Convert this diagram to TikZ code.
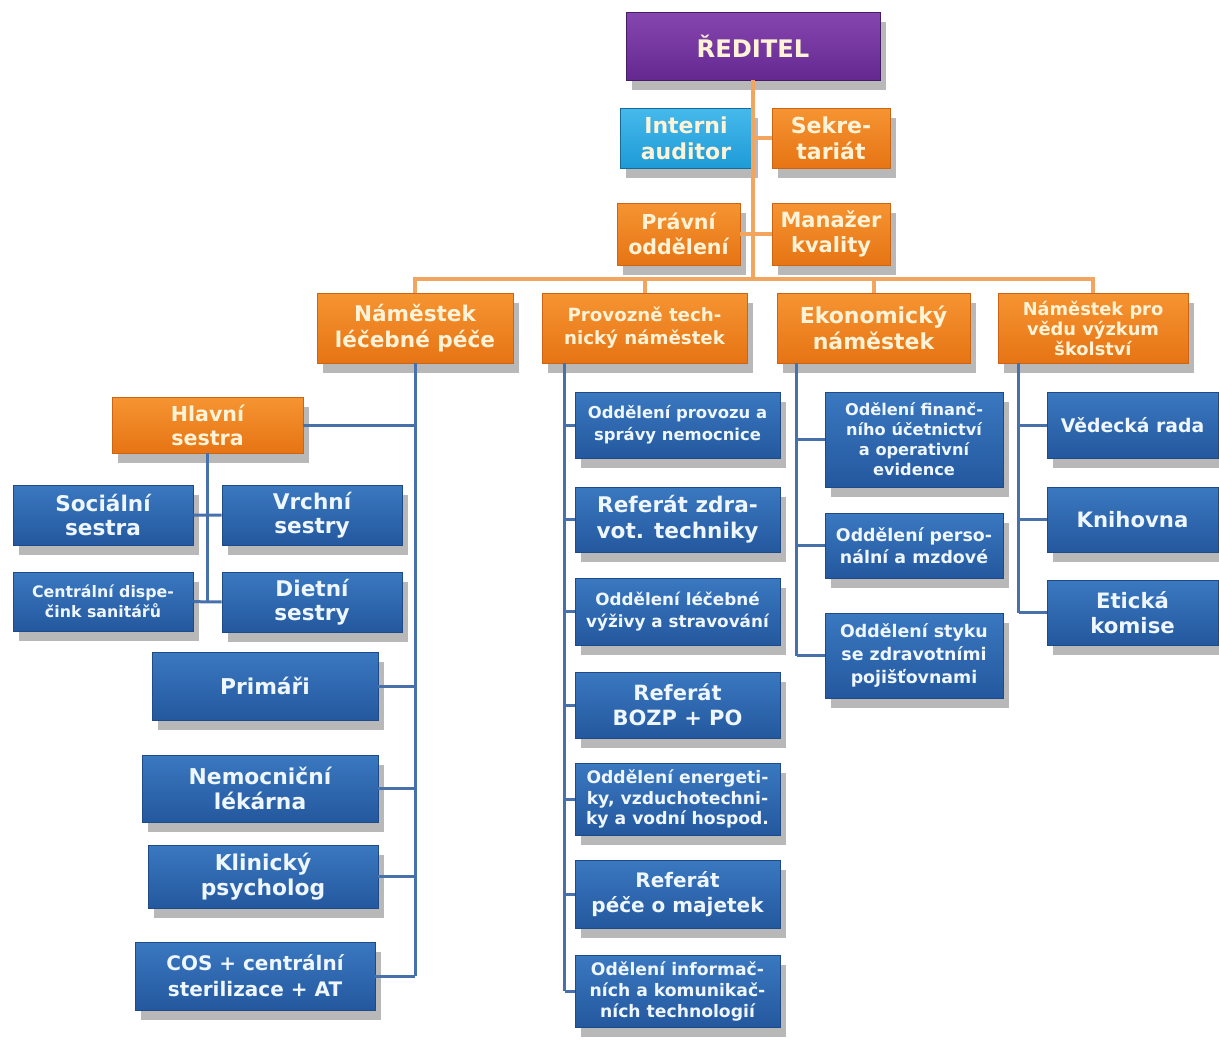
\documentclass[tikz,border=0pt]{standalone}
\usepackage{fontspec}
\setmainfont{DejaVu Sans}
\usetikzlibrary{shadows,calc}

\definecolor{orgtop}{RGB}{246,148,50}
\definecolor{orgbot}{RGB}{230,116,20}
\definecolor{orgedge}{RGB}{205,100,20}
\definecolor{orgwire}{RGB}{242,165,95}
\definecolor{bluetop}{RGB}{58,120,192}
\definecolor{bluebot}{RGB}{36,88,158}
\definecolor{blueedge}{RGB}{30,75,135}
\definecolor{bluewire}{RGB}{72,112,170}
\definecolor{purtop}{RGB}{135,70,175}
\definecolor{purbot}{RGB}{100,40,145}
\definecolor{cyantop}{RGB}{70,185,235}
\definecolor{cyanbot}{RGB}{30,155,215}
\definecolor{cream}{RGB}{255,243,215}
\definecolor{bluewhite}{RGB}{238,246,255}

\tikzset{
  base/.style={rectangle, align=center, inner sep=1pt, line width=0.4pt,
    drop shadow={shadow xshift=3pt, shadow yshift=-5pt, opacity=0.28, fill=black}},
  orgbox/.style={base, draw=orgedge, top color=orgtop, bottom color=orgbot, text=cream},
  bluebox/.style={base, draw=blueedge, top color=bluetop, bottom color=bluebot, text=bluewhite},
  purbox/.style={base, draw=purbot!70!black, top color=purtop, bottom color=purbot, text=cream},
  cyanbox/.style={base, draw=cyanbot!70!black, top color=cyantop, bottom color=cyanbot, text=cream},
  wh/.style 2 args={minimum width=#1pt, minimum height=#2pt},
  fs/.style 2 args={font=\bfseries\fontsize{#1}{#2}\selectfont},
  orgline/.style={draw=orgwire, line width=2pt},
  blueline/.style={draw=bluewire, line width=1.5pt}
}

\begin{document}
\begin{tikzpicture}[x=0.5pt, y=-0.5pt]
	\useasboundingbox (0,0) rectangle (1219,1040);

	% top
	\node[purbox, wh={127}{34}, fs={12.1}{14}] (reditel) at (753,46) {ŘEDITEL};
	\node[cyanbox, wh={66}{30}, fs={11}{13}] (auditor) at (686,138) {Interni\\auditor};
	\node[orgbox, wh={59}{30}, fs={11}{13}] (sekretariat) at (831,138) {Sekre-\\tariát};
	\node[orgbox, wh={61.5}{31}, fs={10.3}{12.5}] (pravni) at (678.5,234) {Právní\\oddělení};
	\node[orgbox, wh={59}{31}, fs={10.5}{12.5}] (manazer) at (831,234) {Manažer\\kvality};

	% namestci
	\node[orgbox, wh={98}{35}, fs={10.8}{12.8}] (nam1) at (415,328) {Náměstek\\léčebné péče};
	\node[orgbox, wh={102.5}{35}, fs={9.1}{11.5}] (nam2) at (644.5,328) {Provozně tech-\\nický náměstek};
	\node[orgbox, wh={96.5}{35}, fs={11}{13}] (nam3) at (873.5,328) {Ekonomický\\náměstek};
	\node[orgbox, wh={95}{35}, fs={8.9}{10}] (nam4) at (1093,328) {Náměstek pro\\vědu výzkum\\školství};

	% lecebna pece
	\node[orgbox, wh={95.5}{28}, fs={10.3}{12}] (hs) at (207.5,425) {Hlavní\\sestra};
	\node[bluebox, wh={90}{30}, fs={10.8}{12.2}] (soc) at (103,515) {Sociální\\sestra};
	\node[bluebox, wh={90}{30}, fs={10.8}{12.2}] (vrch) at (312,515) {Vrchní\\sestry};
	\node[bluebox, wh={90}{29.5}, fs={7.9}{10}] (cent) at (103,601.5) {Centrální dispe-\\čink sanitářů};
	\node[bluebox, wh={90}{30}, fs={10.8}{12.2}] (diet) at (312,602) {Dietní\\sestry};
	\node[bluebox, wh={113}{34}, fs={10.9}{12.5}] (prim) at (265,686) {Primáři};
	\node[bluebox, wh={118}{33.5}, fs={10.9}{12.5}] (lek) at (260,788.5) {Nemocniční\\lékárna};
	\node[bluebox, wh={115}{31.5}, fs={10.9}{12.5}] (psy) at (263,876.5) {Klinický\\psycholog};
	\node[bluebox, wh={120}{34}, fs={10}{13}] (cos) at (255,976) {COS + centrální\\sterilizace + AT};

	% provozne technicky
	\node[bluebox, wh={102.5}{33}, fs={8.2}{11}] (m1) at (677.5,425) {Oddělení provozu a\\správy nemocnice};
	\node[bluebox, wh={102.5}{32.5}, fs={10.8}{13}] (m2) at (677.5,519.5) {Referát zdra-\\vot. techniky};
	\node[bluebox, wh={102.5}{33.5}, fs={8.4}{11}] (m3) at (677.5,611.5) {Oddělení léčebné\\výživy a stravování};
	\node[bluebox, wh={102.5}{33}, fs={10.5}{12.5}] (m4) at (677.5,705) {Referát\\BOZP + PO};
	\node[bluebox, wh={102.5}{36}, fs={8.6}{10.2}] (m5) at (677.5,799) {Oddělení energeti-\\ky, vzduchotechni-\\ky a vodní hospod.};
	\node[bluebox, wh={102.5}{34}, fs={10}{12.5}] (m6) at (677.5,894) {Referát\\péče o majetek};
	\node[bluebox, wh={102.5}{36}, fs={8.6}{10.5}] (m7) at (677.5,991) {Odělení informač-\\ních  a komunikač-\\ních technologií};

	% ekonomicky
	\node[bluebox, wh={89}{47.5}, fs={8.1}{10}] (e1) at (914,439.5) {Odělení finanč-\\ního účetnictví\\a operativní\\evidence};
	\node[bluebox, wh={89}{32.5}, fs={8.7}{11}] (e2) at (914,545.5) {Oddělení perso-\\nální a mzdové};
	\node[bluebox, wh={89}{42.5}, fs={8.7}{11.5}] (e3) at (914,655.5) {Oddělení styku\\se zdravotními\\pojišťovnami};

	% veda
	\node[bluebox, wh={85.5}{33}, fs={9.4}{12}] (v1) at (1132.5,425) {Vědecká rada};
	\node[bluebox, wh={85.5}{32.5}, fs={10.6}{12.5}] (v2) at (1132.5,519.5) {Knihovna};
	\node[bluebox, wh={85.5}{32.5}, fs={10.6}{12.5}] (v3) at (1132.5,612.5) {Etická\\komise};

	% orange lines
	\coordinate (bus) at (753,279);
	\draw[orgline] (reditel) -- (bus);
	\draw[orgline] (auditor) -- (sekretariat);
	\draw[orgline] (pravni) -- (manazer);
	\draw[orgline] (nam1) |- (bus) -| (nam4);
	\draw[orgline] (nam2) -- (nam2 |- bus);
	\draw[orgline] (nam3) -- (nam3 |- bus);

	% blue lines
	\draw[blueline] (nam1) -- (nam1 |- cos);
	\draw[blueline] (hs) -- (nam1 |- hs) (prim) -- (nam1 |- prim) (lek) -- (nam1 |- lek)
		(psy) -- (nam1 |- psy) (cos) -- (nam1 |- cos);
	\draw[blueline] (hs) -- (hs |- cent);
	\draw[blueline] (soc) -- (vrch) (cent) -- (diet);

	\coordinate (t2) at ($(nam2.south west)+(23,0)$);
	\draw[blueline] (t2) -- (t2 |- m7);
	\draw[blueline] (m1) -- (t2 |- m1) (m2) -- (t2 |- m2) (m3) -- (t2 |- m3) (m4) -- (t2 |- m4)
		(m5) -- (t2 |- m5) (m6) -- (t2 |- m6) (m7) -- (t2 |- m7);

	\coordinate (t3) at ($(nam3.south west)+(20,0)$);
	\draw[blueline] (t3) -- (t3 |- e3);
	\draw[blueline] (e1) -- (t3 |- e1) (e2) -- (t3 |- e2) (e3) -- (t3 |- e3);

	\coordinate (t4) at ($(nam4.south west)+(21,0)$);
	\draw[blueline] (t4) -- (t4 |- v3);
	\draw[blueline] (v1) -- (t4 |- v1) (v2) -- (t4 |- v2) (v3) -- (t4 |- v3);
\end{tikzpicture}
\end{document}
